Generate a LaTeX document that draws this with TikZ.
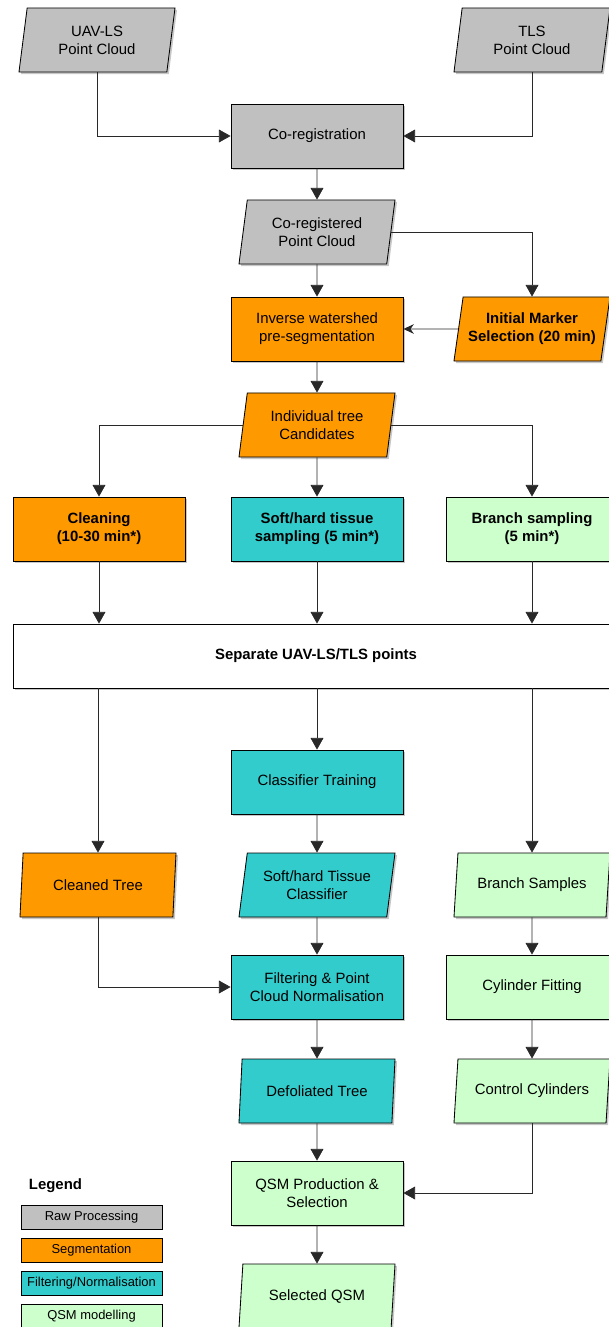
\documentclass[tikz,border=0pt]{standalone}
\usepackage{fontspec}
\setmainfont{Liberation Sans}
\usepackage{tikz}
\usetikzlibrary{positioning,arrows.meta,shapes.geometric,shadows}
\definecolor{RawGray}{RGB}{192,192,192}
\definecolor{SegOrange}{RGB}{255,153,0}
\definecolor{FiltTeal}{RGB}{51,204,204}
\definecolor{QsmGreen}{RGB}{204,255,204}
\definecolor{LineGray}{RGB}{40,40,40}
\tikzset{
  softshadow/.style={
    drop shadow={shadow xshift=0.05cm,shadow yshift=-0.05cm,fill=black,opacity=0.22}
  },
  procbox/.style={
    draw=black,
    line width=0.6pt,
    softshadow,
    minimum width=4.3cm,
    minimum height=1.6cm,
    inner sep=0pt,
    align=center,
    font=\fontsize{10.6}{12.8}\selectfont
  },
  databox/.style={
    procbox,
    trapezium,
    trapezium left angle=74,
    trapezium right angle=106,
    trapezium stretches body,
    minimum width=3.9cm
  },
  legendbox/.style={
    draw=black,
    line width=0.6pt,
    minimum width=3.525cm,
    minimum height=0.6cm,
    inner sep=0pt,
    font=\fontsize{9.2}{11}\selectfont
  },
  flowarrow/.style={-{Triangle[length=0.29cm,width=0.32cm]},line width=0.5pt,draw=LineGray},
  thinarrow/.style={-{Stealth[length=0.26cm,width=0.24cm]},line width=0.5pt,draw=LineGray},
  flowline/.style={line width=0.5pt,draw=LineGray}
}
\begin{document}
\begin{tikzpicture}[x=0.025cm,y=-0.025cm]
  \useasboundingbox (0,0) rectangle (608,1327);

  % raw processing
  \node[databox,fill=RawGray] (uav) at (97,40) {UAV-LS\\Point Cloud};
  \node[databox,fill=RawGray] (tls) at (532,40) {TLS\\Point Cloud};
  \node[procbox,fill=RawGray] (coreg) at (317,136) {Co-registration};
  \node[databox,fill=RawGray] (coregpc) at (317,232) {Co-registered\\Point Cloud};

  % segmentation
  \node[procbox,fill=SegOrange] (invws) at (317,329) {Inverse watershed\\pre-segmentation};
  \node[databox,fill=SegOrange,font=\fontsize{10.6}{12.8}\selectfont\bfseries] (marker) at (532,329) {Initial Marker\\Selection (20 min)};
  \node[databox,fill=SegOrange] (cand) at (317,425) {Individual tree\\Candidates};

  \node[procbox,fill=SegOrange,font=\fontsize{10.6}{12.8}\selectfont\bfseries] (clean) at (99,529) {Cleaning\\(10-30 min*)};
  \node[procbox,fill=FiltTeal,font=\fontsize{10.6}{12.8}\selectfont\bfseries] (soft) at (317,529) {Soft/hard tissue\\sampling (5 min*)};
  \node[procbox,fill=QsmGreen,font=\fontsize{10.6}{12.8}\selectfont\bfseries] (branch) at (532,529) {Branch sampling\\(5 min*)};

  \node[procbox,fill=white,minimum width=15.15cm,font=\fontsize{10.6}{12.8}\selectfont\bfseries] (sep) at (316,656) {Separate UAV-LS/TLS points};

  % branches after separation
  \node[procbox,fill=FiltTeal] (train) at (317,782) {Classifier Training};
  \node[databox,fill=SegOrange] (cleaned) at (98,885) {Cleaned Tree};
  \node[databox,fill=FiltTeal] (classif) at (317,885) {Soft/hard Tissue\\Classifier};
  \node[databox,fill=QsmGreen] (bsamp) at (532,885) {Branch Samples};
  \node[procbox,fill=FiltTeal] (filt) at (317,987) {Filtering \& Point\\Cloud Normalisation};
  \node[procbox,fill=QsmGreen] (cylfit) at (532,987) {Cylinder Fitting};
  \node[databox,fill=FiltTeal] (defol) at (317,1091) {Defoliated Tree};
  \node[databox,fill=QsmGreen] (ctrl) at (532,1091) {Control Cylinders};
  \node[procbox,fill=QsmGreen] (qsm) at (317,1193) {QSM Production \&\\Selection};
  \node[databox,fill=QsmGreen] (selqsm) at (317,1296) {Selected QSM};

  % legend
  \node[anchor=west,font=\fontsize{10.6}{12.8}\selectfont\bfseries] (legtitle) at (24,1186) {Legend};
  \node[legendbox,fill=RawGray] (legraw) at (91.5,1217) {Raw Processing};
  \node[legendbox,fill=SegOrange] (legseg) at (91.5,1250) {Segmentation};
  \node[legendbox,fill=FiltTeal] (legfilt) at (91.5,1283.5) {Filtering/Normalisation};
  \node[legendbox,fill=QsmGreen] (legqsm) at (91.5,1316) {QSM modelling};

  % connectors
  \draw[flowarrow] (uav.south) |- (coreg.west);
  \draw[flowarrow] (tls.south) |- (coreg.east);
  \draw[flowarrow] (coreg) -- (coregpc);
  \draw[flowarrow] (coregpc.east) -| (marker.north);
  \draw[flowarrow] (coregpc) -- (invws);
  \draw[thinarrow] (marker.west) -- (invws.east);
  \draw[flowarrow] (invws) -- (cand);
  \draw[flowarrow] (cand.west) -| (clean.north);
  \draw[flowarrow] (cand) -- (soft);
  \draw[flowarrow] (cand.east) -| (branch.north);
  \draw[flowarrow] (clean.south) -- (clean.south |- sep.north);
  \draw[flowarrow] (soft.south) -- (soft.south |- sep.north);
  \draw[flowarrow] (branch.south) -- (branch.south |- sep.north);
  \draw[flowarrow] (cleaned.north |- sep.south) -- (cleaned.north);
  \draw[flowarrow] (train.north |- sep.south) -- (train.north);
  \draw[flowarrow] (bsamp.north |- sep.south) -- (bsamp.north);
  \draw[flowarrow] (train) -- (classif);
  \draw[flowarrow] (classif) -- (filt);
  \draw[flowarrow] (cleaned.south) |- (filt.west);
  \draw[flowarrow] (bsamp) -- (cylfit);
  \draw[flowarrow] (filt) -- (defol);
  \draw[flowarrow] (cylfit) -- (ctrl);
  \draw[flowarrow] (defol) -- (qsm);
  \draw[flowarrow] (ctrl.south) |- (qsm.east);
  \draw[flowarrow] (qsm) -- (selqsm);
\end{tikzpicture}
\end{document}
